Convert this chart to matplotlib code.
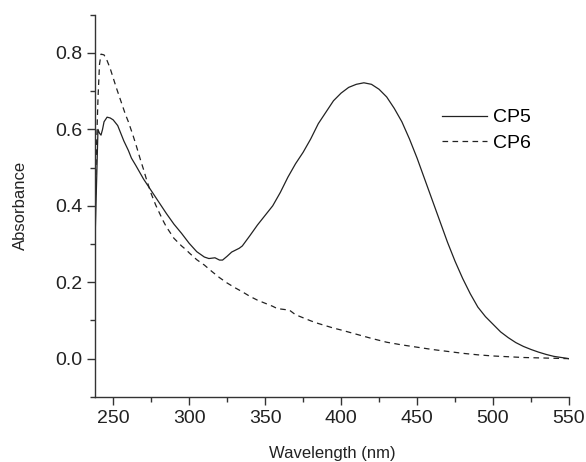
# UV-Vis absorbance spectra of CP5 and CP6
import matplotlib
matplotlib.use('Agg')
import matplotlib.pyplot as plt
from matplotlib.ticker import MultipleLocator

# CP5 (solid line)
cp5_wl = [238, 239, 240, 241, 242, 243, 244, 246, 248, 250, 253, 255, 257, 260, 262, 265,
          270, 275, 280, 285, 290, 295, 300, 305, 310, 313, 317, 320, 322, 325, 328, 330,
          333, 335, 340, 345, 350, 355, 360, 365, 370, 375, 380, 385, 390, 395, 400, 405,
          410, 415, 420, 425, 430, 435, 440, 445, 450, 455, 460, 465, 470, 475, 480, 485,
          490, 495, 500, 505, 510, 515, 520, 525, 530, 535, 540, 545, 550]
cp5_abs = [0.30, 0.45, 0.60, 0.59, 0.585, 0.60, 0.62, 0.632, 0.63, 0.625, 0.61, 0.59, 0.57,
           0.545, 0.525, 0.505, 0.47, 0.44, 0.41, 0.38, 0.352, 0.328, 0.302, 0.28, 0.266,
           0.262, 0.264, 0.258, 0.258, 0.268, 0.279, 0.283, 0.289, 0.295, 0.322, 0.35,
           0.375, 0.40, 0.435, 0.475, 0.51, 0.54, 0.575, 0.615, 0.645, 0.675, 0.695, 0.71,
           0.718, 0.722, 0.718, 0.705, 0.685, 0.655, 0.62, 0.575, 0.525, 0.47, 0.415, 0.36,
           0.305, 0.255, 0.21, 0.17, 0.135, 0.11, 0.09, 0.07, 0.055, 0.042, 0.032, 0.024,
           0.017, 0.011, 0.006, 0.003, 0.0]

# CP6 (dashed line)
cp6_wl = [238, 239, 240, 241, 242, 244, 246, 248, 250, 252, 255, 258, 260, 263, 265, 268,
          270, 272, 275, 278, 280, 283, 285, 290, 295, 298, 300, 305, 310, 315, 320, 325,
          330, 335, 340, 345, 350, 355, 358, 362, 366, 370, 375, 380, 385, 390, 395, 400,
          410, 420, 425, 430, 440, 450, 460, 470, 480, 490, 500, 510, 520, 530, 540, 550]
cp6_abs = [0.35, 0.55, 0.68, 0.77, 0.797, 0.795, 0.78, 0.76, 0.735, 0.71, 0.675, 0.64, 0.62,
           0.585, 0.56, 0.52, 0.495, 0.468, 0.432, 0.402, 0.385, 0.36, 0.345, 0.315, 0.295,
           0.285, 0.277, 0.259, 0.245, 0.228, 0.212, 0.198, 0.186, 0.175, 0.163, 0.153,
           0.145, 0.137, 0.131, 0.129, 0.127, 0.115, 0.107, 0.099, 0.092, 0.086, 0.08,
           0.075, 0.064, 0.053, 0.048, 0.043, 0.036, 0.030, 0.024, 0.019, 0.014, 0.010,
           0.007, 0.005, 0.003, 0.002, 0.001, 0.0]

matplotlib.rc('font', family=['Liberation Sans', 'DejaVu Sans'])

fig = plt.figure(figsize=(5.86, 4.62), dpi=100)
ax = fig.add_axes([0.162, 0.141, 0.809, 0.827])

line_color = '#222222'
ax.plot(cp5_wl, cp5_abs, color=line_color, linewidth=0.9, label='CP5')
ax.plot(cp6_wl, cp6_abs, color=line_color, linewidth=0.9, dashes=(4.5, 3.5), label='CP6')

ax.set(xlim=(238, 550), ylim=(-0.1, 0.9))
ax.xaxis.set_minor_locator(MultipleLocator(25))
ax.yaxis.set_minor_locator(MultipleLocator(0.1))
ax.set_xticks([250, 300, 350, 400, 450, 500, 550])
ax.set_yticks([0.0, 0.2, 0.4, 0.6, 0.8])
ax.set_yticklabels(['0.0', '0.2', '0.4', '0.6', '0.8'])

for side in ['top', 'right']:
    ax.spines[side].set_visible(False)
for side in ['left', 'bottom']:
    ax.spines[side].set_linewidth(1.0)
    ax.spines[side].set_color('#333333')

ax.tick_params(which='major', length=5.8, width=1.0, labelsize=14, colors='#333333',
               labelcolor='#222222')
ax.tick_params(which='minor', length=3.6, width=1.0, colors='#333333')

ax.set_xlabel('Wavelength (nm)', fontsize=12, color='#222222', labelpad=14)
ax.set_ylabel('Absorbance', fontsize=12, color='#222222', labelpad=19)

ax.legend(loc='center left', bbox_to_anchor=(0.732, 0.697), frameon=False, fontsize=14,
          borderpad=0, borderaxespad=0, handlelength=2.3, handletextpad=0.3,
          labelspacing=0.42)

fig.savefig('out.png', dpi=100)
